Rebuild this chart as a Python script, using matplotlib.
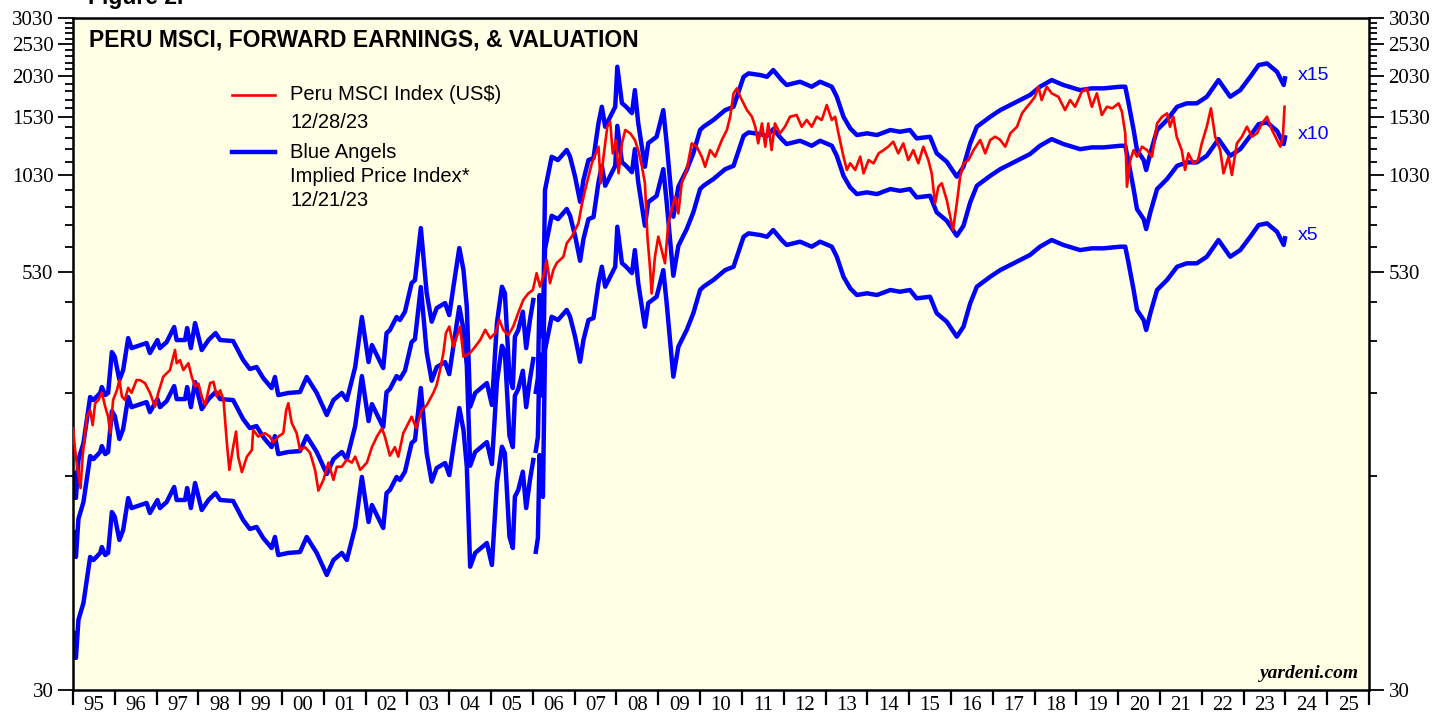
import numpy as np
import matplotlib
matplotlib.use("Agg")
import matplotlib.pyplot as plt
from matplotlib.ticker import FixedLocator, NullFormatter, FixedFormatter
from matplotlib.lines import Line2D

# ---------------- data ----------------
# Forward earnings (Blue Angels implied price index = multiple x forward EPS)
eps_years = [1995.01, 1995.07, 1995.13, 1995.25, 1995.41, 1995.49, 1995.65, 1995.69, 1995.77, 1995.84,
             1995.93, 1996.00, 1996.11, 1996.20, 1996.32, 1996.40, 1996.76, 1996.84, 1997.02, 1997.08,
             1997.24, 1997.42, 1997.48, 1997.68, 1997.73, 1997.82, 1997.92, 1998.08, 1998.24, 1998.41,
             1998.52, 1998.83, 1999.07, 1999.23, 1999.39, 1999.55, 1999.75, 1999.83, 1999.91, 2000.15,
             2000.43, 2000.59, 2000.83, 2001.07, 2001.23, 2001.43, 2001.55, 2001.75, 2001.91, 2002.07,
             2002.15, 2002.42, 2002.50, 2002.58, 2002.74, 2002.82, 2002.94, 2003.10, 2003.18, 2003.32,
             2003.46, 2003.58, 2003.70, 2003.90, 2004.00, 2004.10, 2004.24, 2004.34, 2004.42, 2004.50,
             2004.62, 2004.90, 2005.02, 2005.14, 2005.26, 2005.33, 2005.44, 2005.52, 2005.57, 2005.65,
             2005.76, 2005.84, 2005.93, 2006.01, 2006.04, 2006.07, 2006.12, 2006.16, 2006.24, 2006.29,
             2006.45, 2006.60, 2006.81, 2006.89, 2007.01, 2007.13, 2007.21, 2007.33, 2007.45, 2007.57,
             2007.65, 2007.73, 2007.85, 2007.97, 2008.02, 2008.13, 2008.23, 2008.37, 2008.44, 2008.52,
             2008.68, 2008.76, 2008.96, 2009.12, 2009.20, 2009.28, 2009.36, 2009.48, 2009.68, 2009.84,
             2010.00, 2010.08, 2010.32, 2010.60, 2010.80, 2011.04, 2011.16, 2011.44, 2011.60, 2011.75,
             2011.95, 2012.07, 2012.39, 2012.67, 2012.87, 2013.15, 2013.27, 2013.43, 2013.59, 2013.75,
             2013.99, 2014.23, 2014.55, 2014.78, 2015.02, 2015.18, 2015.50, 2015.66, 2015.90, 2016.14,
             2016.30, 2016.46, 2016.62, 2016.94, 2017.18, 2017.50, 2017.89, 2018.13, 2018.41, 2018.69,
             2019.09, 2019.37, 2019.65, 2020.05, 2020.17, 2020.25, 2020.37, 2020.45, 2020.61, 2020.67,
             2020.77, 2020.93, 2021.17, 2021.41, 2021.64, 2021.88, 2022.12, 2022.40, 2022.68, 2022.92,
             2023.16, 2023.36, 2023.56, 2023.80, 2023.96, 2023.99]
fwd_eps = [8.86, 7.48, 9.71, 10.91, 14.96, 14.65, 15.38, 16.02, 15.16, 15.38,
           20.37, 19.69, 16.81, 18.01, 22.42, 20.93, 21.67, 20.23, 22.12, 20.93,
           21.82, 24.19, 22.12, 22.12, 24.02, 20.93, 24.86, 20.65, 22.12, 23.21,
           22.12, 21.97, 19.28, 18.13, 18.38, 17.04, 15.91, 17.16, 15.16, 15.38,
           15.48, 17.16, 15.38, 13.22, 14.65, 15.38, 14.65, 18.38, 25.91, 19.02,
           21.37, 18.25, 23.21, 23.69, 25.91, 25.38, 26.87, 32.72, 33.40, 47.74,
           30.54, 25.09, 27.56, 28.52, 26.26, 31.90, 41.61, 35.78, 27.80, 13.99,
           15.38, 16.46, 14.16, 24.86, 31.90, 30.54, 17.20, 15.91, 22.63, 23.69,
           26.87, 20.93, 25.38, 29.12, np.nan, 15.50, 17.04, 30.13, 22.60, 61.98,
           77.88, 76.14, 81.60, 77.88, 67.90, 57.18, 66.40, 76.14, 77.20, 98.19,
           109.8, 95.72, 102.5, 109.8, 144.5, 112.6, 109.8, 105.1, 123.1, 98.19,
           72.74, 85.57, 89.35, 107.3, 85.57, 66.40, 51.60, 63.37, 71.11, 79.92,
           93.59, 95.72, 100.3, 107.3, 109.8, 134.9, 138.1, 136.5, 134.9, 141.3,
           131.9, 127.5, 130.4, 126.0, 130.4, 126.0, 117.6, 102.5, 94.68, 90.42,
           91.49, 90.42, 93.59, 92.47, 93.59, 88.37, 89.35, 79.76, 75.27, 67.90,
           72.74, 85.36, 95.72, 102.5, 107.3, 112.4, 119.0, 126.0, 131.9, 127.5,
           123.1, 124.6, 124.6, 126.0, 126.0, 112.4, 93.59, 81.60, 76.14, 71.11,
           79.76, 93.59, 100.3, 109.8, 112.4, 112.4, 117.6, 131.9, 117.6, 123.1,
           134.9, 146.2, 147.9, 139.6, 127.5, 133.5]
multiples = [15, 10, 5]
multiple_labels = ["x15", "x10", "x5"]

# Peru MSCI Index (US$)
msci_years = [1995.00, 1995.05, 1995.10, 1995.18, 1995.23, 1995.29, 1995.33, 1995.41, 1995.47, 1995.53,
              1995.61, 1995.69, 1995.77, 1995.84, 1995.89, 1995.96, 1996.05, 1996.11, 1996.17, 1996.24,
              1996.32, 1996.40, 1996.52, 1996.60, 1996.72, 1996.84, 1996.96, 1997.04, 1997.16, 1997.32,
              1997.44, 1997.48, 1997.56, 1997.64, 1997.76, 1997.84, 1997.92, 1998.00, 1998.08, 1998.16,
              1998.28, 1998.36, 1998.44, 1998.52, 1998.60, 1998.68, 1998.74, 1998.83, 1998.90, 1998.95,
              1999.04, 1999.16, 1999.28, 1999.31, 1999.43, 1999.59, 1999.71, 1999.79, 1999.91, 2000.03,
              2000.10, 2000.15, 2000.23, 2000.35, 2000.43, 2000.55, 2000.67, 2000.79, 2000.87, 2000.99,
              2001.11, 2001.23, 2001.31, 2001.43, 2001.55, 2001.67, 2001.75, 2001.87, 2002.03, 2002.15,
              2002.27, 2002.39, 2002.46, 2002.58, 2002.70, 2002.78, 2002.90, 2002.98, 2003.10, 2003.21,
              2003.34, 2003.46, 2003.62, 2003.70, 2003.78, 2003.86, 2003.92, 2004.00, 2004.10, 2004.26,
              2004.34, 2004.50, 2004.62, 2004.74, 2004.86, 2004.98, 2005.10, 2005.20, 2005.29, 2005.41,
              2005.53, 2005.65, 2005.77, 2005.89, 2006.00, 2006.09, 2006.17, 2006.25, 2006.33, 2006.41,
              2006.49, 2006.57, 2006.73, 2006.81, 2006.93, 2007.05, 2007.09, 2007.17, 2007.25, 2007.33,
              2007.41, 2007.57, 2007.62, 2007.69, 2007.78, 2007.85, 2007.91, 2007.99, 2008.05, 2008.13,
              2008.21, 2008.33, 2008.44, 2008.52, 2008.61, 2008.68, 2008.74, 2008.80, 2008.84, 2008.92,
              2009.00, 2009.08, 2009.16, 2009.24, 2009.32, 2009.40, 2009.48, 2009.56, 2009.68, 2009.80,
              2009.92, 2010.04, 2010.12, 2010.24, 2010.36, 2010.52, 2010.64, 2010.72, 2010.80, 2010.88,
              2010.96, 2011.04, 2011.12, 2011.24, 2011.32, 2011.39, 2011.48, 2011.56, 2011.63, 2011.71,
              2011.79, 2011.91, 2012.03, 2012.15, 2012.31, 2012.43, 2012.55, 2012.67, 2012.79, 2012.91,
              2013.03, 2013.15, 2013.23, 2013.31, 2013.43, 2013.51, 2013.59, 2013.71, 2013.83, 2013.91,
              2014.03, 2014.15, 2014.27, 2014.39, 2014.50, 2014.62, 2014.74, 2014.86, 2014.98, 2015.10,
              2015.22, 2015.34, 2015.46, 2015.54, 2015.62, 2015.70, 2015.78, 2015.90, 2016.05, 2016.14,
              2016.22, 2016.30, 2016.42, 2016.54, 2016.70, 2016.82, 2016.94, 2017.06, 2017.18, 2017.30,
              2017.42, 2017.58, 2017.70, 2017.82, 2017.89, 2018.01, 2018.09, 2018.17, 2018.29, 2018.41,
              2018.57, 2018.73, 2018.85, 2018.97, 2019.13, 2019.25, 2019.37, 2019.49, 2019.61, 2019.73,
              2019.86, 2020.01, 2020.09, 2020.17, 2020.21, 2020.29, 2020.37, 2020.45, 2020.57, 2020.69,
              2020.81, 2020.93, 2021.05, 2021.17, 2021.24, 2021.32, 2021.40, 2021.52, 2021.60, 2021.68,
              2021.80, 2021.91, 2022.00, 2022.12, 2022.22, 2022.32, 2022.44, 2022.52, 2022.64, 2022.72,
              2022.84, 2022.96, 2023.08, 2023.20, 2023.32, 2023.44, 2023.56, 2023.68, 2023.80, 2023.88,
              2023.94, 2023.98]
msci_values = [181, 156, 139, 120, 149, 175, 196, 205, 185, 215,
               220, 231, 210, 196, 175, 220, 235, 252, 225, 220,
               239, 231, 252, 252, 247, 231, 210, 231, 258, 270,
               310, 283, 289, 270, 283, 258, 241, 246, 225, 212,
               247, 249, 225, 235, 220, 164, 136, 159, 177, 149,
               134, 149, 156, 179, 171, 175, 171, 164, 171, 175,
               205, 215, 188, 175, 156, 159, 153, 136, 118, 127,
               143, 127, 139, 139, 146, 143, 149, 136, 143, 159,
               171, 181, 171, 150, 159, 149, 175, 183, 196, 181,
               205, 212, 231, 244, 270, 304, 348, 364, 317, 364,
               296, 304, 317, 332, 356, 336, 348, 381, 356, 343,
               364, 400, 437, 457, 468, 525, 479, 513, 575, 490,
               537, 563, 588, 645, 675, 723, 740, 840, 930, 1019,
               1117, 1252, 974, 1169, 1436, 1486, 1196, 1311, 1043, 1281,
               1404, 1372, 1311, 1223, 1091, 974, 675, 549, 457, 588,
               675, 616, 562, 740, 810, 888, 792, 974, 1067, 1281,
               1252, 1169, 1091, 1223, 1169, 1311, 1404, 1538, 1806, 1869,
               1764, 1686, 1610, 1538, 1436, 1281, 1469, 1252, 1469, 1223,
               1469, 1372, 1436, 1538, 1556, 1436, 1504, 1436, 1538, 1504,
               1667, 1504, 1538, 1372, 1169, 1067, 1117, 1067, 1169, 1043,
               1142, 1117, 1196, 1223, 1252, 1296, 1196, 1281, 1142, 1223,
               1117, 1252, 1142, 1043, 848, 951, 974, 868, 706, 848,
               1019, 1117, 1142, 1223, 1311, 1196, 1311, 1341, 1311, 1252,
               1372, 1436, 1574, 1647, 1686, 1764, 1890, 1725, 1890, 1806,
               1764, 1610, 1725, 1647, 1826, 1869, 1647, 1806, 1556, 1647,
               1630, 1686, 1592, 1372, 951, 1142, 1223, 1169, 1252, 1223,
               1169, 1469, 1538, 1574, 1436, 1538, 1341, 1223, 1067, 1196,
               1117, 1142, 1281, 1436, 1629, 1341, 1223, 1043, 1169, 1031,
               1281, 1341, 1436, 1341, 1372, 1469, 1538, 1404, 1311, 1252,
               1341, 1647]

year_labels = ["95", "96", "97", "98", "99", "00", "01", "02", "03", "04", "05", "06", "07", "08",
               "09", "10", "11", "12", "13", "14", "15", "16", "17", "18", "19", "20", "21", "22",
               "23", "24", "25"]
y_major = [30, 530, 1030, 1530, 2030, 2530, 3030]

# ---------------- figure ----------------
SERIF = ["Liberation Serif", "DejaVu Serif"]
SANS = ["Liberation Sans", "DejaVu Sans"]
BG = "#FFFFE6"

fig = plt.figure(figsize=(14.49, 7.19), dpi=100)
ax = fig.add_axes([73 / 1449, 1 - 690 / 719, (1369 - 73) / 1449, (690 - 18) / 719])
ax.set_facecolor(BG)

eps = np.array(fwd_eps, dtype=float)
for m in multiples:
    ax.plot(eps_years, eps * m, color="#0000FF", lw=3.2, solid_joinstyle="round", zorder=2)
ax.plot(msci_years, msci_values, color="#FF0000", lw=1.9, zorder=3)

# multiple labels at the end of each blue line
for m, lab in zip(multiples, multiple_labels):
    ax.annotate(lab, xy=(eps_years[-1], eps[-1] * m), xytext=(9, 2), textcoords="offset points",
                color="#0000FF", fontsize=14, family=SANS, va="center", ha="left")

ax.set_yscale("log")
ax.set_ylim(30, 3030)
ax.set_xlim(1995, 2026)

ax.yaxis.set_major_locator(FixedLocator(y_major))
ax.yaxis.set_major_formatter(FixedFormatter([str(v) for v in y_major]))
minor_y = [v for v in range(130, 3030, 100) if v not in y_major]
ax.yaxis.set_minor_locator(FixedLocator(minor_y))
ax.yaxis.set_minor_formatter(NullFormatter())

ax.xaxis.set_major_locator(FixedLocator(list(range(1995, 2027))))
ax.xaxis.set_major_formatter(NullFormatter())
ax.xaxis.set_minor_locator(FixedLocator([1995.5 + i for i in range(len(year_labels))]))
ax.xaxis.set_minor_formatter(FixedFormatter(year_labels))

ax.tick_params(axis="y", which="major", direction="out", length=11, width=1.3,
               left=True, right=True, labelleft=True, labelright=True, labelsize=15, pad=3)
ax.tick_params(axis="y", which="minor", direction="out", length=6, width=1.3, left=True, right=True)
ax.tick_params(axis="x", which="major", direction="out", length=11, width=1.6, bottom=True, top=False)
ax.tick_params(axis="x", which="minor", length=0, labelsize=15, pad=4)
for lbl in ax.get_yticklabels() + ax.get_xticklabels(minor=True):
    lbl.set_family(SERIF)

for s in ax.spines.values():
    s.set_linewidth(1.8)
    s.set_color("black")

# title
ax.text(0.012, 0.985, "PERU MSCI, FORWARD EARNINGS, & VALUATION", transform=ax.transAxes,
        fontsize=16.5, fontweight="bold", family=SANS, va="top", ha="left")
fig.text(88 / 1449, 1 - 4 / 719, "Figure 2.", fontsize=16.5, fontweight="bold", family=SANS,
         va="baseline", ha="left")

# legend (drawn manually to keep keys aligned with first text line)
def key_line(y_px, color, lw):
    fx0, fx1 = 232 / 1449, 275 / 1449
    fy = 1 - y_px / 719
    fig.add_artist(Line2D([fx0, fx1], [fy, fy], color=color, lw=lw, transform=fig.transFigure))

key_line(95, "#FF0000", 1.9)
key_line(152, "#0000FF", 3.2)
fig.text(290 / 1449, 1 - 95 / 719, "Peru MSCI Index (US$)", fontsize=14.5, family=SANS, va="center")
fig.text(290 / 1449, 1 - 123 / 719, "12/28/23", fontsize=14.5, family=SANS, va="center")
fig.text(290 / 1449, 1 - 152 / 719, "Blue Angels", fontsize=14.5, family=SANS, va="center")
fig.text(290 / 1449, 1 - 176 / 719, "Implied Price Index*", fontsize=14.5, family=SANS, va="center")
fig.text(290 / 1449, 1 - 200 / 719, "12/21/23", fontsize=14.5, family=SANS, va="center")

ax.text(0.992, 0.012, "yardeni.com", transform=ax.transAxes, fontsize=14, fontweight="bold",
        fontstyle="italic", family=SERIF, ha="right", va="bottom")

fig.savefig("out.png", dpi=100, facecolor="white")
